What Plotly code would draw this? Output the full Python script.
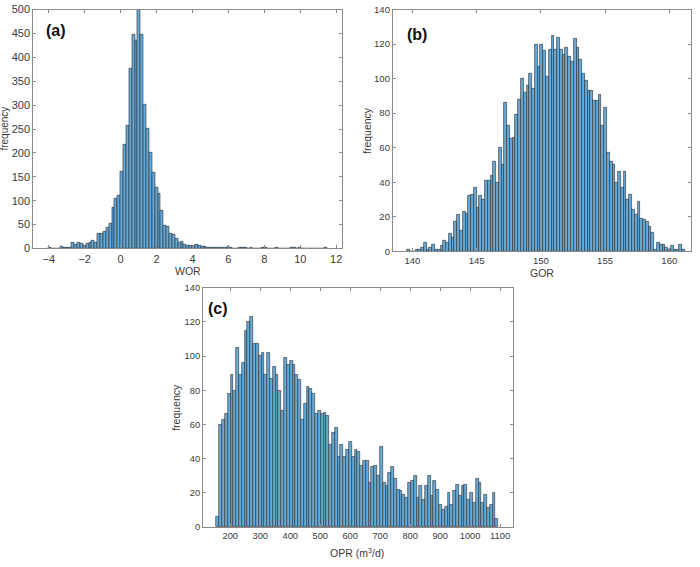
import numpy as np
import plotly.graph_objects as go

# ---------------- data ----------------
# (a) WOR histogram
wor_bin_start = -4.01
wor_bin_width = 0.16
wor_counts = [2, 0, 0, 0, 3, 1, 1, 1,
              12, 8, 13, 10, 6, 11, 12, 17, 12, 31, 31, 36, 43, 53, 86, 105, 110,
              160, 218, 257, 377, 447, 435,
              515,
              447, 302, 250, 200, 158, 128, 115, 80, 48, 45, 32, 30, 20, 13, 14, 9,
              7, 7, 6, 8, 7, 4,
              3, 2, 2, 2, 1, 1, 1, 1, 3,
              1, 0, 0, 1, 2, 1, 0, 1, 0, 0, 0, 1, 1, 0, 0, 0, 1, 0, 0, 0, 0, 1, 1,
              0, 1, 0, 0, 0, 0, 0, 0, 0, 0, 1]

# (b) GOR histogram
gor_bin_start = 139.59
gor_bin_width = 0.216
gor_counts = [1, 0, 0, 1, 1, 2, 5, 1, 2, 4, 1, 1, 3, 6, 5, 10, 8, 17, 21, 12, 23,
              22, 32, 33, 37, 25, 32, 30, 41, 41, 44, 52, 40, 60, 50, 86, 73, 65, 66, 79, 88,
              100, 92, 96, 103, 94, 120, 107, 120, 116, 101, 117, 125, 117, 124, 117, 114,
              118, 113, 110, 123, 118, 111,
              103, 99, 93, 93, 87, 87, 91, 73, 83, 57, 52, 50, 40, 46, 37, 46, 30, 33,
              24, 21, 29, 19, 18, 17, 14, 11,
              1, 5, 4, 4, 2, 1, 3, 1, 1, 4, 1]

# (c) OPR histogram
opr_bin_start = 154.0
opr_bin_width = 9.4
opr_counts = [6, 60, 63, 66, 78, 89, 80, 105, 89, 96,
              115, 120, 123, 107, 107, 100, 102, 89, 102, 87,
              94, 89, 80, 68, 99, 95, 97, 95, 89, 86,
              63, 72, 82, 81, 78, 66, 68, 66, 67, 65,
              48, 55, 58, 41, 48, 41, 45, 50, 41, 45,
              44, 36, 39, 39, 26, 35, 36, 30, 47, 26,
              24, 32, 35, 28, 22, 21, 19, 17, 26, 27,
              30, 17, 24, 16, 24, 30, 18, 27, 22, 13,
              10, 12, 20, 13, 21, 25, 18, 24, 25, 16,
              20, 14, 28, 26, 14, 19, 11, 13, 20, 5]

wor_ticks = [-4, -2, 0, 2, 4, 6, 8, 10, 12]
gor_ticks = [140, 145, 150, 155, 160]
opr_ticks = [200, 300, 400, 500, 600, 700, 800, 900, 1000, 1100]
freq_ticks_a = [0, 50, 100, 150, 200, 250, 300, 350, 400, 450, 500]
freq_ticks_bc = [0, 20, 40, 60, 80, 100, 120, 140]

# ---------------- figure ----------------
BAR_FILL = "#66aad7"
BAR_EDGE = "#2a2a2a"
AXIS_COL = "#8a8a8a"
TEXT_COL = "#3a3a3a"
FONT = "Liberation Sans, Arial, sans-serif"


def centers(start, width, n):
    return start + width * (np.arange(n) + 0.5)


fig = go.Figure()
for counts, start, width, xa, ya in [
    (wor_counts, wor_bin_start, wor_bin_width, "x", "y"),
    (gor_counts, gor_bin_start, gor_bin_width, "x2", "y2"),
    (opr_counts, opr_bin_start, opr_bin_width, "x3", "y3"),
]:
    fig.add_trace(go.Bar(
        x=centers(start, width, len(counts)), y=counts, width=width,
        marker=dict(color=BAR_FILL, line=dict(color=BAR_EDGE, width=0.6)),
        xaxis=xa, yaxis=ya, hoverinfo="x+y",
    ))


def axis(domain, rng, ticks, size, anchor):
    return dict(domain=domain, range=rng, tickvals=ticks, ticks="inside",
                ticklen=3, tickcolor=AXIS_COL, tickwidth=1,
                showline=True, linecolor=AXIS_COL, linewidth=1, mirror="ticks",
                showgrid=False, zeroline=False, anchor=anchor,
                tickfont=dict(family=FONT, size=size, color=TEXT_COL))


fig.update_layout(
    width=700, height=567,
    margin=dict(l=0, r=0, t=0, b=0),
    paper_bgcolor="white", plot_bgcolor="white",
    showlegend=False, bargap=0,
    xaxis=axis([0.0476, 0.4890], [-4.86, 12.31], wor_ticks, 11, "y"),
    yaxis=axis([0.5621, 0.9917], [0, 500], freq_ticks_a, 11, "x"),
    xaxis2=axis([0.5621, 0.9890], [138.48, 161.71], gor_ticks, 9.6, "y2"),
    yaxis2=axis([0.5573, 0.9917], [0, 140], freq_ticks_bc, 9.6, "x2"),
    xaxis3=axis([0.2904, 0.7343], [109, 1144], opr_ticks, 9.3, "y3"),
    yaxis3=axis([0.0612, 0.4915], [0, 140], freq_ticks_bc, 9.3, "x3"),
)


def ann(text, px, py, size, bold=False, angle=0, color=TEXT_COL):
    fig.add_annotation(
        text=f"<b>{text}</b>" if bold else text,
        x=px / 700, y=1 - py / 567, xref="paper", yref="paper",
        showarrow=False, textangle=angle, xanchor="center", yanchor="middle",
        font=dict(family=FONT, size=size, color=color))


# axis titles
ann("WOR", 188, 271, 10.5)
ann("GOR", 543, 273, 10.5)
ann("OPR (m<sup>3</sup>/d)", 358, 558, 10.5)
ann("frequency", 5, 126, 10, angle=-90)
ann("frequency", 367, 128, 10.5, angle=-90)
ann("frequency", 176, 410, 10.5, angle=-90)

# panel labels
ann("(a)", 56, 26, 16, bold=True, color="#111111")
ann("(b)", 418, 30, 16, bold=True, color="#111111")
ann("(c)", 218, 310, 16, bold=True, color="#111111")

fig.write_html("out.html",
               config={"displayModeBar": False},
               post_script="document.body.style.margin='0';"
                           "document.body.style.overflow='hidden';")
